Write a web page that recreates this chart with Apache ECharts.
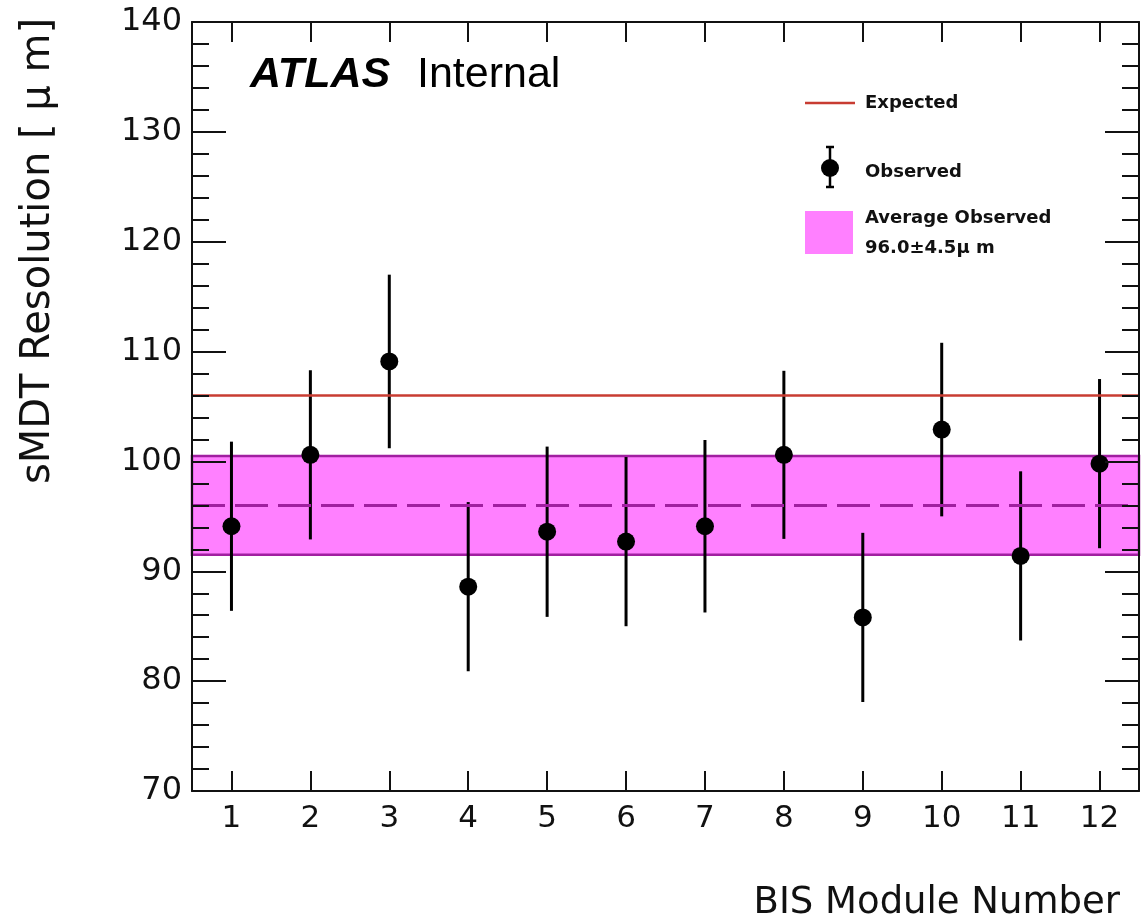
<!DOCTYPE html>
<html>
  <head>
    <meta charset="utf-8" />
    <title>sMDT Resolution</title>
    <script src="https://cdn.jsdelivr.net/npm/echarts@6.0.0/dist/echarts.min.js"></script>
    <style>
      html, body { margin: 0; padding: 0; background: #fff; }
    </style>
  </head>
  <body>
    <div id="main" style="width: 1142px; height: 924px"></div>
    <script type="text/javascript">
      // values
      var modules = ["1", "2", "3", "4", "5", "6", "7", "8", "9", "10", "11", "12"];
      var resolution = [94.1, 100.6, 109.1, 88.6, 93.6, 92.7, 94.1, 100.6, 85.8, 102.9, 91.4, 99.8];
      var resolutionErr = [7.7, 7.7, 7.9, 7.7, 7.75, 7.7, 7.85, 7.65, 7.7, 7.9, 7.7, 7.7];
      var expected = 106;
      var avgObserved = 96.0;
      var avgErr = 4.5;

      var myChart = echarts.init(document.getElementById("main"));

      var tickFont = "DejaVu Sans";
      var bandFill = "#ff80ff";
      var bandEdge = "#a01fa0";
      var expColor = "#c83c32";

      var errData = resolution.map(function (v, i) {
        return [i, v - resolutionErr[i], v + resolutionErr[i]];
      });
      var dotData = resolution.map(function (v, i) {
        return [i, v];
      });

      var commonX = {
        type: "category",
        data: modules,
        boundaryGap: true,
        axisLine: { show: true, lineStyle: { color: "#111", width: 2 } },
        axisTick: {
          show: true,
          inside: true,
          alignWithLabel: true,
          length: 20,
          lineStyle: { color: "#111", width: 2 },
        },
        splitLine: { show: false },
        z: 5,
      };

      var commonY = {
        type: "value",
        min: 70,
        max: 140,
        interval: 10,
        axisLine: { show: true, lineStyle: { color: "#111", width: 2 } },
        axisTick: { show: true, inside: true, length: 34, lineStyle: { color: "#111", width: 2 } },
        minorTick: { show: true, splitNumber: 5, length: 17, lineStyle: { color: "#111", width: 2 } },
        splitLine: { show: false },
        z: 5,
      };

      option = {
        animation: false,
        backgroundColor: "#fff",
        grid: { left: 192, top: 22, width: 947, height: 769, containLabel: false },
        xAxis: [
          Object.assign({}, commonX, {
            position: "bottom",
            axisLabel: { show: true, margin: 12, fontFamily: tickFont, fontSize: 31, color: "#111" },
          }),
          Object.assign({}, commonX, { position: "top", axisLabel: { show: false } }),
        ],
        yAxis: [
          Object.assign({}, commonY, {
            position: "left",
            axisLabel: {
              show: true,
              margin: 10,
              fontFamily: tickFont,
              fontSize: 32,
              color: "#111",
              padding: [8, 0, 0, 0],
            },
          }),
          Object.assign({}, commonY, { position: "right", axisLabel: { show: false } }),
        ],
        series: [
          {
            name: "Average Observed",
            type: "line",
            data: [],
            z: 1,
            markArea: {
              silent: true,
              itemStyle: { color: bandFill, borderColor: bandEdge, borderWidth: 2.5 },
              data: [[{ yAxis: avgObserved - avgErr }, { yAxis: avgObserved + avgErr }]],
            },
            markLine: {
              silent: true,
              symbol: "none",
              label: { show: false },
              lineStyle: { color: bandEdge, width: 3, type: [33, 10] },
              data: [{ yAxis: avgObserved }],
            },
          },
          {
            name: "Expected",
            type: "line",
            data: [],
            z: 2,
            markLine: {
              silent: true,
              symbol: "none",
              label: { show: false },
              lineStyle: { color: expColor, width: 2.5, type: "solid" },
              data: [{ yAxis: expected }],
            },
          },
          {
            name: "Observed error",
            type: "custom",
            z: 3,
            data: errData,
            renderItem: function (params, api) {
              var lo = api.coord([api.value(0), api.value(1)]);
              var hi = api.coord([api.value(0), api.value(2)]);
              return {
                type: "line",
                shape: { x1: lo[0], y1: lo[1], x2: hi[0], y2: hi[1] },
                style: { stroke: "#000", lineWidth: 3 },
              };
            },
          },
          {
            name: "Observed",
            type: "scatter",
            z: 4,
            symbol: "circle",
            symbolSize: 18,
            itemStyle: { color: "#000", opacity: 1 },
            data: dotData,
          },
        ],
        graphic: [
          // ATLAS label
          {
            type: "text",
            left: 250,
            top: 54,
            style: {
              text: "ATLAS",
              font: "italic bold 43px 'Liberation Sans'",
              fill: "#000",
            },
          },
          {
            type: "text",
            left: 417,
            top: 54,
            style: {
              text: "Internal",
              font: "43px 'Liberation Sans'",
              fill: "#000",
            },
          },
          // legend
          {
            type: "line",
            shape: { x1: 805, y1: 103, x2: 855, y2: 103 },
            style: { stroke: expColor, lineWidth: 2.5 },
          },
          {
            type: "text",
            x: 865,
            y: 103,
            style: {
              text: "Expected",
              font: "bold 18px 'DejaVu Sans'",
              fill: "#111",
              textVerticalAlign: "middle",
            },
          },
          {
            type: "line",
            shape: { x1: 830, y1: 147, x2: 830, y2: 187 },
            style: { stroke: "#000", lineWidth: 2.5 },
          },
          {
            type: "line",
            shape: { x1: 826, y1: 147, x2: 834, y2: 147 },
            style: { stroke: "#000", lineWidth: 2.5 },
          },
          {
            type: "line",
            shape: { x1: 826, y1: 187, x2: 834, y2: 187 },
            style: { stroke: "#000", lineWidth: 2.5 },
          },
          {
            type: "circle",
            shape: { cx: 830, cy: 168, r: 9 },
            style: { fill: "#000" },
          },
          {
            type: "text",
            x: 865,
            y: 172,
            style: {
              text: "Observed",
              font: "bold 18px 'DejaVu Sans'",
              fill: "#111",
              textVerticalAlign: "middle",
            },
          },
          {
            type: "rect",
            shape: { x: 805, y: 211, width: 48, height: 43 },
            style: { fill: bandFill },
          },
          {
            type: "text",
            x: 865,
            y: 218,
            style: {
              text: "Average Observed",
              font: "bold 18px 'DejaVu Sans'",
              fill: "#111",
              textVerticalAlign: "middle",
            },
          },
          {
            type: "text",
            x: 865,
            y: 248,
            style: {
              text: avgObserved.toFixed(1) + "\u00b1" + avgErr.toFixed(1) + "\u03bc m",
              font: "bold 18px 'DejaVu Sans'",
              fill: "#111",
              textVerticalAlign: "middle",
            },
          },
          // axis titles
          {
            type: "text",
            x: 39,
            y: 251,
            rotation: Math.PI / 2,
            style: {
              text: "sMDT Resolution [ \u03bc m]",
              font: "40px 'DejaVu Sans'",
              fill: "#111",
              textAlign: "center",
              textVerticalAlign: "middle",
            },
          },
          {
            type: "text",
            x: 1120,
            y: 903,
            style: {
              text: "BIS Module Number",
              font: "37px 'DejaVu Sans'",
              fill: "#111",
              textAlign: "right",
              textVerticalAlign: "middle",
            },
          },
        ],
      };
      myChart.setOption(option);
    </script>
  </body>
</html>
